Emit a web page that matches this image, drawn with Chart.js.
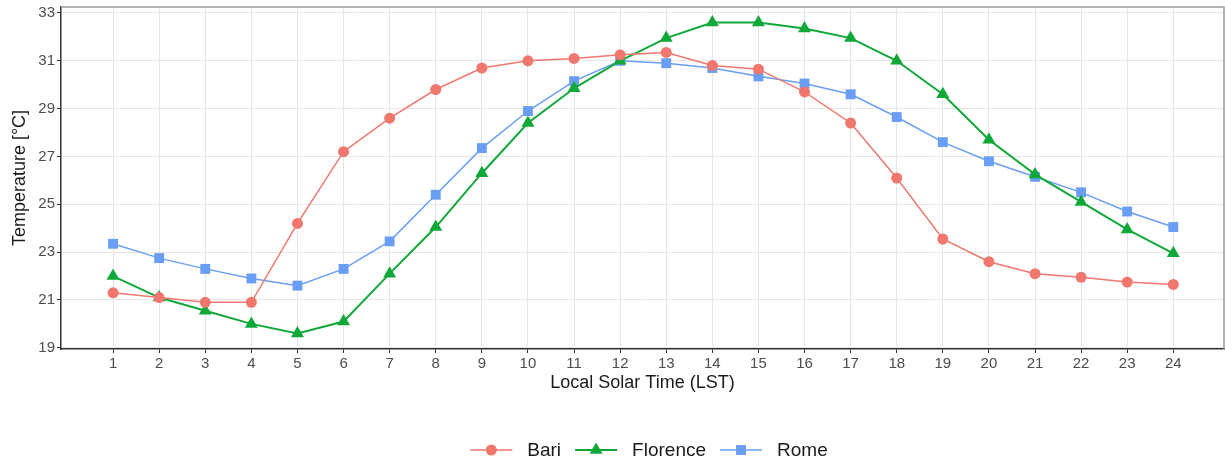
<!DOCTYPE html>
<html>
<head>
<meta charset="utf-8">
<script src="https://cdn.jsdelivr.net/npm/chart.js@4"></script>
<style>
  html, body { margin: 0; padding: 0; background: #ffffff; overflow: hidden; }
  #wrap { width: 1225px; height: 458px; }
  canvas { display: block; }
</style>
</head>
<body>
<div id="wrap"><canvas id="tempChart" width="1225" height="458"></canvas></div>
<script>
// hours of local solar time
const hours = [1, 2, 3, 4, 5, 6, 7, 8, 9, 10, 11, 12, 13, 14, 15, 16, 17, 18, 19, 20, 21, 22, 23, 24];

// mean temperatures [°C]
const bari = [21.3, 21.1, 20.9, 20.9, 24.2, 27.2, 28.6, 29.8, 30.7, 31.0, 31.1, 31.25,
              31.35, 30.8, 30.65, 29.7, 28.4, 26.1, 23.55, 22.6, 22.1, 21.95, 21.75, 21.65];
const florence = [22.0, 21.1, 20.55, 20.0, 19.6, 20.1, 22.1, 24.05, 26.3, 28.4, 29.85, 31.0,
                  31.95, 32.6, 32.6, 32.35, 31.95, 31.0, 29.6, 27.7, 26.25, 25.1, 23.95, 22.95];
const rome = [23.35, 22.75, 22.3, 21.9, 21.6, 22.3, 23.45, 25.4, 27.35, 28.9, 30.15, 31.0,
              30.9, 30.7, 30.35, 30.05, 29.6, 28.65, 27.6, 26.8, 26.15, 25.5, 24.7, 24.05];

const yTicks = [19, 21, 23, 25, 27, 29, 31, 33];

const FONT = '"Liberation Sans", Arial, Helvetica, sans-serif';

function toPoints(values) {
    return values.map((v, i) => ({ x: hours[i], y: v }));
}

// ggplot style legend: short line with the marker on it
const lineLegend = {
    id: "lineLegend",
    afterDraw(chart) {
        const ctx = chart.ctx;
        ctx.save();
        ctx.font = "19px " + FONT;
        ctx.textBaseline = "middle";
        const y = 450;
        const sw = 42, textGap = 15, itemGap = 14;
        const items = chart.data.datasets.map(ds => ({ ds, w: ctx.measureText(ds.label).width }));
        let total = 0;
        items.forEach((it, i) => { total += sw + textGap + it.w + (i ? itemGap : 0); });
        let x = 649 - total / 2;
        items.forEach(it => {
            const ds = it.ds;
            ctx.strokeStyle = ds.borderColor;
            ctx.lineWidth = ds.borderWidth;
            ctx.beginPath();
            ctx.moveTo(x, y);
            ctx.lineTo(x + sw, y);
            ctx.stroke();
            ctx.fillStyle = ds.pointBackgroundColor;
            ctx.strokeStyle = ds.pointBackgroundColor;
            Chart.helpers.drawPoint(ctx, {
                pointStyle: ds.pointStyle, radius: ds.pointRadius, rotation: 0, borderWidth: 0
            }, x + sw / 2, y);
            ctx.fillStyle = "#1a1a1a";
            ctx.fillText(ds.label, x + sw + textGap, y + 1);
            x += sw + textGap + it.w + itemGap;
        });
        ctx.restore();
    }
};

// panel border (top / right) like theme_bw
const panelBorder = {
    id: "panelBorder",
    beforeDatasetsDraw(chart) {
        const a = chart.chartArea;
        const ctx = chart.ctx;
        ctx.save();
        ctx.strokeStyle = "#9a9a9a";
        ctx.lineWidth = 1.5;
        ctx.beginPath();
        ctx.moveTo(a.left, a.top);
        ctx.lineTo(a.right, a.top);
        ctx.lineTo(a.right, a.bottom);
        ctx.stroke();
        ctx.restore();
    }
};

const ctx = document.getElementById("tempChart").getContext("2d");

new Chart(ctx, {
    type: "line",
    data: {
        datasets: [
            {
                label: "Bari",
                data: toPoints(bari),
                borderColor: "#F0776E",
                borderWidth: 1.5,
                pointStyle: "circle",
                pointRadius: 5.5,
                pointBackgroundColor: "#F0776E",
                pointBorderWidth: 0,
            },
            {
                label: "Florence",
                data: toPoints(florence),
                borderColor: "#11A83A",
                borderWidth: 2,
                pointStyle: "triangle",
                pointRadius: 7.5,
                pointBackgroundColor: "#11A83A",
                pointBorderWidth: 0,
            },
            {
                label: "Rome",
                data: toPoints(rome),
                borderColor: "#6A9EF5",
                borderWidth: 1.5,
                pointStyle: "rect",
                pointRadius: 7,
                pointBackgroundColor: "#6A9EF5",
                pointBorderWidth: 0,
            },
        ],
    },
    options: {
        responsive: false,
        animation: false,
        layout: { autoPadding: false, padding: { top: 7, right: 1, left: 0, bottom: 64 } },
        plugins: {
            legend: { display: false },
            tooltip: { enabled: false },
        },
        scales: {
            x: {
                type: "linear",
                min: -0.13,
                max: 25.1,
                afterBuildTicks: axis => { axis.ticks = hours.map(h => ({ value: h })); },
                afterFit: axis => { axis.height = 45; axis.paddingLeft = 0; axis.paddingRight = 0; },
                grid: { color: "#e6e6e6", lineWidth: 1, tickColor: "#333333", tickLength: 4 },
                border: { color: "#333333", width: 1.5 },
                ticks: { color: "#4d4d4d", font: { family: FONT, size: 15 }, padding: 2, autoSkip: false, maxRotation: 0 },
                title: {
                    display: true,
                    text: "Local Solar Time (LST)",
                    color: "#1a1a1a",
                    font: { family: FONT, size: 18 },
                    padding: { top: 1, bottom: 0 },
                },
            },
            y: {
                min: 18.95,
                max: 33.25,
                afterBuildTicks: axis => { axis.ticks = yTicks.map(v => ({ value: v })); },
                afterFit: axis => { axis.width = 61; axis.paddingTop = 0; axis.paddingBottom = 0; },
                grid: { color: "#e6e6e6", lineWidth: 1, tickColor: "#333333", tickLength: 4 },
                border: { color: "#333333", width: 1.5 },
                ticks: { color: "#4d4d4d", font: { family: FONT, size: 15 }, padding: 2 },
                title: {
                    display: true,
                    text: "Temperature [°C]",
                    color: "#1a1a1a",
                    font: { family: FONT, size: 18 },
                    padding: { top: 9, bottom: 0 },
                },
            },
        },
    },
    plugins: [panelBorder, lineLegend],
});
</script>
</body>
</html>
